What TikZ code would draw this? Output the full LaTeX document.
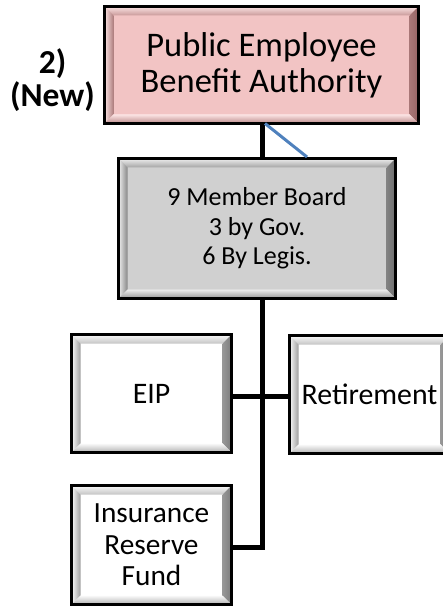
\documentclass[tikz,border=0pt]{standalone}
\usepackage{fontspec}
\setmainfont{Carlito}
\usetikzlibrary{calc}
\definecolor{pinkF}{RGB}{242,196,196}
\definecolor{pinkL}{RGB}{252,228,228}
\definecolor{pinkD}{RGB}{150,100,100}
\definecolor{greyF}{RGB}{208,208,208}
\definecolor{greyL}{RGB}{238,238,238}
\definecolor{greyD}{RGB}{110,110,110}
\definecolor{whiteF}{RGB}{255,255,255}
\definecolor{whiteL}{RGB}{250,250,250}
\definecolor{whiteD}{RGB}{125,125,125}
\definecolor{linkblue}{RGB}{79,129,189}
\tikzset{
  bx/.style n args={3}{draw=black, line width=3pt, fill=#1, inner sep=0pt, outer sep=0pt, align=center,
    path picture={
      \path (path picture bounding box.north west) coordinate (@nw)
            (path picture bounding box.north east) coordinate (@ne)
            (path picture bounding box.south west) coordinate (@sw)
            (path picture bounding box.south east) coordinate (@se);
      \shade[top color=#2, bottom color=#3!45!#1] (@nw) -- (@ne) -- ([shift={(-9pt,-9pt)}]@ne) -- ([shift={(9pt,-9pt)}]@nw) -- cycle;
      \shade[left color=#2, right color=#3!75!#1] (@nw) -- ([shift={(9pt,-9pt)}]@nw) -- ([shift={(9pt,9pt)}]@sw) -- (@sw) -- cycle;
      \shade[left color=#3!80!#1, right color=#3] (@ne) -- ([shift={(-9pt,-9pt)}]@ne) -- ([shift={(-9pt,9pt)}]@se) -- (@se) -- cycle;
      \shade[top color=#2, bottom color=#3!60!#1] (@sw) -- ([shift={(9pt,9pt)}]@sw) -- ([shift={(-9pt,9pt)}]@se) -- (@se) -- cycle;
    }},
  link/.style={draw=black, line width=5pt},
  lab/.style={font=\fontsize{33.5}{33}\selectfont\bfseries, align=center, inner sep=0pt}
}
\begin{document}
\begin{tikzpicture}[x=1pt, y=-1pt]
\useasboundingbox (0,0) rectangle (443,609);
\clip (0,0) rectangle (443,609);
\node[bx={pinkF}{pinkL}{pinkD}, minimum width=314pt, minimum height=117pt,
  font=\fontsize{34.5}{36}\selectfont] (peba) at (261.5,65) {Public Employee\\Benefit Authority};
\node[lab] (num) at (52.5,80) {2)\\(New)};
\node[bx={greyF}{greyL}{greyD}, minimum width=277pt, minimum height=140pt,
  font=\fontsize{26}{29.5}\selectfont] (board) at (257,228.5) {9 Member Board\\3 by Gov.\\6 By Legis.};
\node[bx={whiteF}{whiteL}{whiteD}, minimum width=160pt, minimum height=118pt,
  font=\fontsize{29.8}{32}\selectfont] (eip) at (151.5,393.5) {EIP};
\node[bx={whiteF}{whiteL}{whiteD}, minimum width=160pt, minimum height=118pt,
  font=\fontsize{29.8}{32}\selectfont] (ret) at (369.5,394.5) {Retirement};
\node[bx={whiteF}{whiteL}{whiteD}, minimum width=160pt, minimum height=119pt,
  font=\fontsize{29.3}{31.7}\selectfont] (irf) at (151.5,545) {Insurance\\Reserve\\Fund};
\coordinate (j1) at (262,396);
\coordinate (j2) at (262,547);
\coordinate (bt) at (307,157);
\draw[link] (peba.south -| j1) -- (board.north -| j1);
\draw[draw=linkblue, line width=3pt] (peba.south -| 265,0) -- (bt);
\draw[link] (board.south -| j1) -- (j2) -- (irf.east |- j2);
\draw[link] (eip.east |- j1) -- (ret.west |- j1);
\end{tikzpicture}
\end{document}
